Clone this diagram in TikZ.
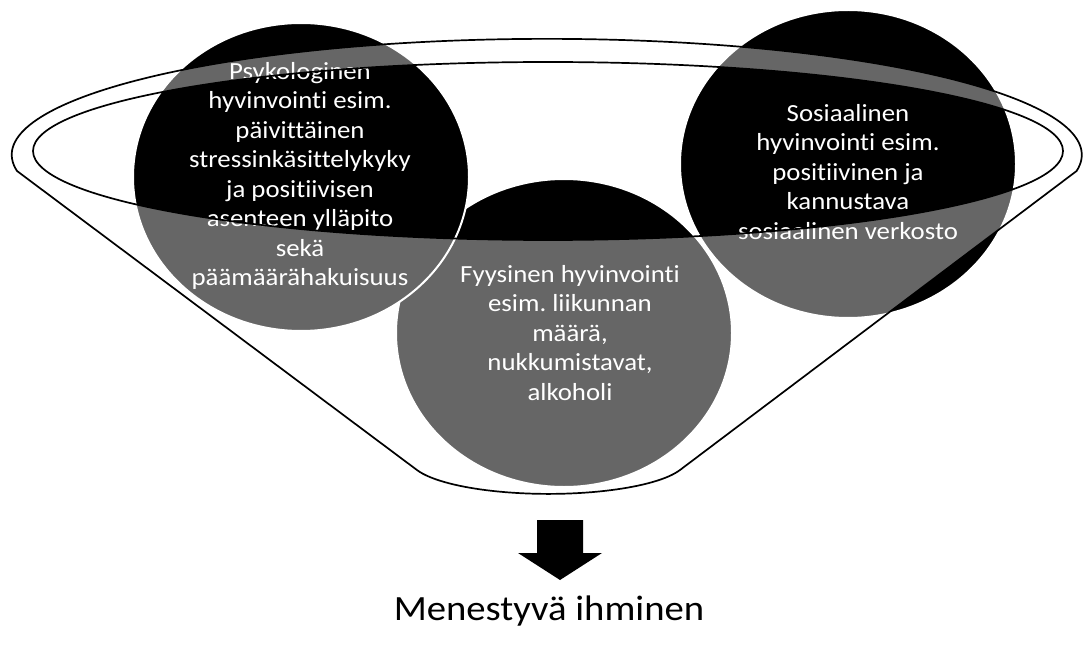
\documentclass[tikz,border=0pt]{standalone}
\usepackage{fontspec}
\setmainfont{Carlito}[FakeStretch=1.09, Ligatures=NoCommon]
\usetikzlibrary{shapes.geometric}
\frenchspacing
\tikzset{
  bubble/.style={ellipse, draw=white, line width=2pt, fill=black,
    minimum width=336pt, minimum height=308pt, inner sep=0pt},
  bubbletext/.style={text=white, align=center, inner sep=0pt,
    font=\fontsize{24.6}{29.5}\selectfont\frenchspacing},
  funnel/.style={draw=black, line width=1.7pt, line join=round,
    fill=white, fill opacity=0.4, even odd rule},
  bigarrow/.style={fill=black},
  result/.style={text=black, inner sep=0pt, font=\fontsize{35.5}{42}\selectfont}
}
\begin{document}
\begin{tikzpicture}[x=1pt,y=-1pt]
\useasboundingbox (0,0) rectangle (1084,647);

% the three circles: the lower one first, the upper two over it
\node[bubble] (fyys) at (564,333) {};
\node[bubble] (psyk) at (301,177) {};
\node[bubble] (sos)  at (848,164) {};

\node[bubbletext] (psyktext) at (300,176)
  {Psykologinen\\hyvinvointi esim.\\päivittäinen\\stressinkäsittelykyky\\ja positiivisen\\asenteen ylläpito\\sekä\\päämäärähakuisuus};
\node[bubbletext] (sostext) at (848,172)
  {Sosiaalinen\\hyvinvointi esim.\\positiivinen ja\\kannustava\\sosiaalinen verkosto};
\node[bubbletext] (fyystext) at (570,333)
  {Fyysinen hyvinvointi\\esim. liikunnan\\määrä,\\nukkumistavat,\\alkoholi};

% funnel: rim and cone, with the opening left clear
\path[funnel]
  (17,171) arc[start angle=172, end angle=368, x radius=535, y radius=116]
  -- (680,470)
  arc[start angle=18.5, end angle=161.5, x radius=138.7, y radius=35]
  -- cycle
  (548,151) ellipse[x radius=515, y radius=89];

% block arrow pointing to the result
\fill[bigarrow] (537,520) -- (583,520) -- (583,553) -- (602,553)
  -- (560,580) -- (518,553) -- (537,553) -- cycle;

\node[result] (tulos) at (549,611) {Menestyvä ihminen};
\end{tikzpicture}
\end{document}
